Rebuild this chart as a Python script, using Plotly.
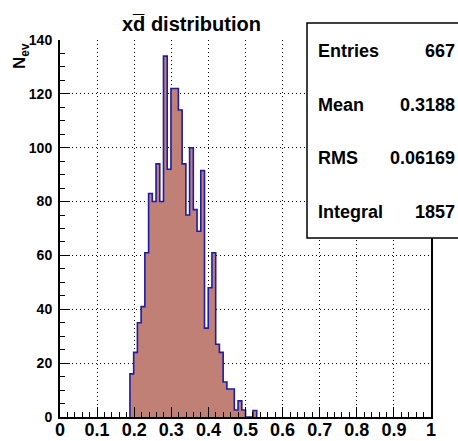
import plotly.graph_objects as go

# ---- data ----
bin_start = 0.1885
bin_width = 0.01005
counts = [16, 24, 35, 41, 61, 83, 80, 94, 80, 134, 92, 122, 122, 114, 94, 75,
          100, 77, 69, 91.5, 33, 48, 61, 27, 24, 13, 10.4, 10.4, 2.6, 6, 2.6,
          0, 0, 2.4]
stat_names = ["Entries", "Mean", "RMS", "Integral"]
stat_values = ["667", "0.3188", "0.06169", "1857"]
x_ticks = [0, 0.1, 0.2, 0.3, 0.4, 0.5, 0.6, 0.7, 0.8, 0.9, 1]
x_tick_labels = ["0", "0.1", "0.2", "0.3", "0.4", "0.5", "0.6", "0.7", "0.8", "0.9", "1"]
y_ticks = [0, 20, 40, 60, 80, 100, 120, 140]
title_text = "xd\u0305 distribution"

W, H = 458, 441
L, R, T, B = 60, 27, 40, 24
FONT = "Liberation Sans"

edges = [bin_start + i * bin_width for i in range(len(counts) + 1)]
xs = [edges[0]] + edges[:-1] + [edges[-1]]
ys = [0] + counts + [0]

fig = go.Figure()
fig.add_trace(go.Scatter(
    x=xs, y=ys, mode="lines", line=dict(shape="hv", color="#1c1ca6", width=1.6),
    fill="tozeroy", fillcolor="rgb(192,128,118)", hoverinfo="skip", showlegend=False))

def px_x(p):
    return (p - L) / (W - L - R)

def px_y(p):
    return (H - B - p) / (H - T - B)

axis_common = dict(
    showline=True, linecolor="black", linewidth=2,
    ticks="inside", tickcolor="black", ticklen=10, tickwidth=1,
    showgrid=True, gridcolor="black", gridwidth=1, griddash="1px,3px",
    zeroline=False, automargin=False,
)

fig.update_xaxes(
    range=[0, 1], tickvals=x_ticks, ticktext=x_tick_labels,
    tickfont=dict(family=FONT, size=18, color="black", weight="bold"),
    minor=dict(dtick=0.02, ticks="inside", ticklen=5, tickcolor="black", showgrid=False),
    mirror=False, ticklabelstandoff=-5, **axis_common)
fig.update_yaxes(
    range=[0, 140], tickvals=y_ticks,
    tickfont=dict(family=FONT, size=14, color="black", weight="bold"),
    minor=dict(dtick=5, ticks="inside", ticklen=5, tickcolor="black", showgrid=False),
    mirror=True, ticklabelstandoff=3, **axis_common)

shapes = [dict(type="rect", xref="paper", yref="paper",
               x0=px_x(307), x1=px_x(462), y0=px_y(238), y1=px_y(23),
               fillcolor="white", line=dict(color="black", width=1.5), layer="above")]

annotations = []
row_y = [51, 105, 158, 212]
for name, val, ry in zip(stat_names, stat_values, row_y):
    annotations.append(dict(xref="paper", yref="paper", x=px_x(316), y=px_y(ry),
                            text=name, showarrow=False, xanchor="left", yanchor="middle",
                            font=dict(family=FONT, size=18, color="black", weight="bold")))
    annotations.append(dict(xref="paper", yref="paper", x=px_x(457), y=px_y(ry),
                            text=val, showarrow=False, xanchor="right", yanchor="middle",
                            font=dict(family=FONT, size=18, color="black", weight="bold")))

annotations.append(dict(xref="paper", yref="paper", x=px_x(191), y=px_y(24),
                        text=title_text, showarrow=False, xanchor="center", yanchor="middle",
                        font=dict(family=FONT, size=20, color="black", weight="bold")))
annotations.append(dict(xref="paper", yref="paper", x=px_x(21), y=px_y(41),
                        text="N<sub>ev</sub>", showarrow=False, textangle=-90,
                        xanchor="center", yanchor="top",
                        font=dict(family=FONT, size=17, color="black", weight="bold")))

fig.update_layout(
    width=W, height=H, margin=dict(l=L, r=R, t=T, b=B, pad=0),
    paper_bgcolor="white", plot_bgcolor="white",
    shapes=shapes, annotations=annotations, showlegend=False)

fig.write_html("out.html")
